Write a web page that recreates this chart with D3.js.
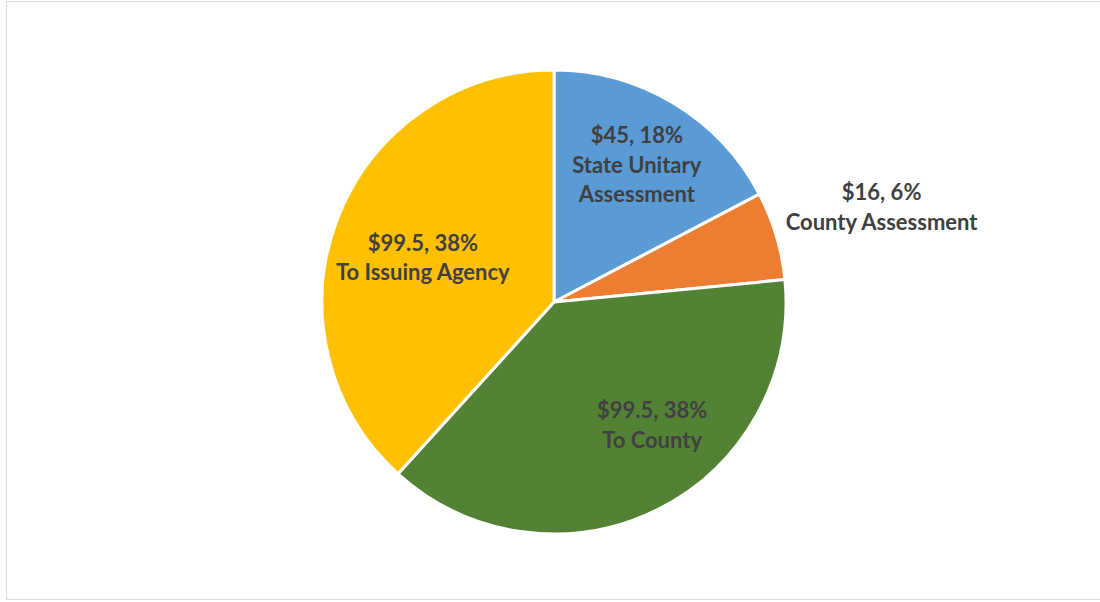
<!DOCTYPE html>
<html>
<head>
<meta charset="utf-8">
<script src="https://cdn.jsdelivr.net/npm/d3@7"></script>
<style>
  html, body { margin: 0; padding: 0; background: #fff; }
  svg { display: block; }
</style>
</head>
<body>
<svg id="chart" width="1100" height="602"></svg>
<script>
// Distribution of each dollar collected, clockwise from 12 o'clock
const categories = ["State Unitary Assessment", "County Assessment", "To County", "To Issuing Agency"];
const values = [45, 16, 99.5, 99.5];
const percentLabels = ["18%", "6%", "38%", "38%"];
const nameLines = [["State Unitary", "Assessment"], ["County Assessment"], ["To County"], ["To Issuing Agency"]];
const colors = ["#5B9BD5", "#ED7D31", "#548235", "#FFC000"];

const svg = d3.select("#chart");
const W = 1100, H = 602;

// Chart area frame
svg.append("rect")
  .attr("x", 6.5).attr("y", 1.5)
  .attr("width", W).attr("height", 598)
  .attr("fill", "#fff")
  .attr("stroke", "#D9D9D9").attr("stroke-width", 1);

const cx = 554, cy = 302, R = 232;

const data = categories.map((c, i) => ({ name: c, value: values[i], pct: percentLabels[i], lines: nameLines[i], color: colors[i] }));

const pie = d3.pie().value(d => d.value).sort(null);
const arcs = pie(data);
const arc = d3.arc().innerRadius(0).outerRadius(R);

const g = svg.append("g").attr("transform", `translate(${cx},${cy})`);

g.selectAll("path.slice")
  .data(arcs)
  .join("path")
  .attr("class", "slice")
  .attr("d", arc)
  .attr("fill", d => d.data.color)
  .attr("stroke", "#fff")
  .attr("stroke-width", 3)
  .attr("stroke-linejoin", "round");

// Label placement: fraction of radius and angular nudge (degrees) from slice mid-angle
const labelRadius = [0.69, 1.47, 0.68, 0.597];
const labelNudge = [0, 0.5, -11.8, -2.4];

const lineH = 29.5;
arcs.forEach((a, i) => {
  const mid = (a.startAngle + a.endAngle) / 2 + labelNudge[i] * Math.PI / 180;
  const r = R * labelRadius[i];
  const lx = r * Math.sin(mid), ly = -r * Math.cos(mid);
  const lines = [`$${a.data.value}, ${a.data.pct}`, ...a.data.lines];
  const t = g.append("text")
    .attr("text-anchor", "middle")
    .attr("font-family", "Lato, 'Open Sans', sans-serif")
    .attr("font-weight", 700)
    .attr("font-size", 22)
    .attr("fill", "#404040");
  const y0 = ly - (lines.length - 1) * lineH / 2;
  lines.forEach((s, k) => {
    t.append("tspan")
      .attr("x", lx)
      .attr("y", y0 + k * lineH)
      .attr("dy", "0.35em")
      .text(s);
  });
});
</script>
</body>
</html>
